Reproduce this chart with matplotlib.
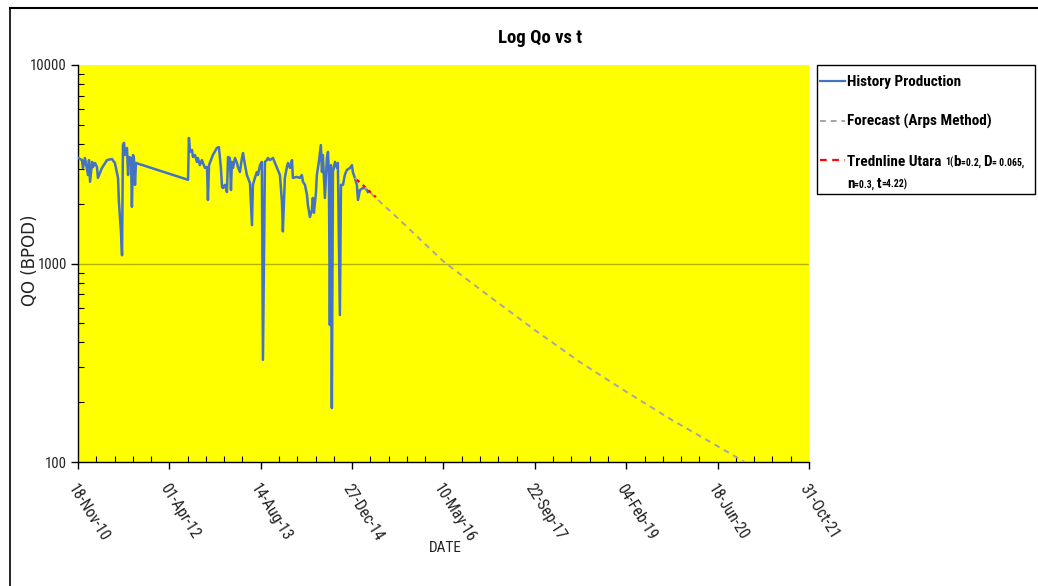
import numpy as np
import matplotlib
matplotlib.use("Agg")
import matplotlib.pyplot as plt
import matplotlib.dates as mdates
from matplotlib import font_manager
from matplotlib.lines import Line2D
from matplotlib.patches import Rectangle
from matplotlib.ticker import FixedLocator, NullFormatter, FuncFormatter


def pick_narrow_family():
    names = {f.name for f in font_manager.fontManager.ttflist}
    for cand in ("Liberation Sans Narrow", "Roboto Condensed",
                 "Open Sans Condensed", "Noto Sans Condensed",
                 "DejaVu Sans Condensed"):
        if cand in names:
            return cand, "normal"
    for f in font_manager.fontManager.ttflist:
        if str(f.stretch) in ("condensed", "semi-condensed",
                              "extra-condensed") and "Sans" in f.name:
            return f.name, f.stretch
    for cand in ("Roboto", "Lato", "Liberation Sans"):
        if cand in names:
            return cand, "normal"
    return "DejaVu Sans", "normal"


NARROW_NAME, NARROW_STRETCH = pick_narrow_family()
NARROW = [NARROW_NAME, "DejaVu Sans"]

# ---- data -------------------------------------------------------------
start_date = np.datetime64("2010-11-18")

# history production: days since first record, oil rate (BOPD)
hist_days = [0, 22, 27, 38, 55, 60, 66, 77, 82, 93, 104, 109, 131, 159, 186,
             202, 219, 224, 235, 241, 246, 252, 257, 268, 274, 279, 290, 295,
             301, 306, 312, 317, 602, 607, 613, 624, 629, 640, 651, 656, 667,
             678, 684, 695, 706, 711, 717, 738, 760, 771, 782, 788, 793, 804,
             815, 821, 831, 837, 842, 848, 859, 870, 875, 886, 897, 903, 914,
             924, 930, 941, 952, 957, 968, 979, 985, 996, 1006, 1012, 1023,
             1034, 1039, 1050, 1067, 1089, 1105, 1116, 1121, 1132, 1143, 1149,
             1160, 1171, 1176, 1198, 1214, 1225, 1231, 1242, 1253, 1258, 1269,
             1280, 1285, 1291, 1302, 1307, 1318, 1329, 1335, 1340, 1351, 1362,
             1368, 1373, 1378, 1384, 1389, 1395, 1406, 1417, 1422, 1433, 1439,
             1450, 1460, 1471, 1488, 1499, 1504, 1515, 1526, 1532, 1543, 1559,
             1570, 1581, 1586]
hist_qo = [3400, 3320, 3030, 3400, 2790, 3320, 2580, 3250, 3060, 3210, 3060,
           2700, 3030, 3320, 3360, 3210, 2700, 2040, 1450, 1100, 3950, 4050,
           3520, 3820, 2790, 3440, 3400, 1930, 3520, 3400, 2490, 3210, 2640,
           4290, 3650, 3730, 3440, 3520, 3250, 3400, 3130, 3320, 3210, 3030,
           3060, 2090, 3130, 3520, 3820, 3860, 3030, 2430, 2400, 2490, 2290,
           3440, 3400, 2345, 3250, 3030, 3400, 3210, 3060, 2890, 3400, 3600,
           3130, 2790, 2700, 2540, 1560, 2490, 2700, 2890, 2790, 3130, 3250,
           327, 3250, 3320, 3400, 3320, 3400, 3030, 2790, 2040, 1450, 2700,
           3060, 3210, 3030, 3320, 2700, 2730, 2700, 2790, 2580, 2490, 2215,
           1970, 1715, 1860, 2140, 1800, 2270, 2790, 3250, 3950, 2890, 3520,
           2140, 3400, 3650, 2790, 490, 3130, 187, 2890, 3250, 3030, 3210,
           550, 2490, 2490, 2790, 2960, 3030, 3130, 2890, 2700, 2490, 2090,
           2345, 2400, 2400, 2345, 2290]

# forecast (Arps method)
fc_days = [1515, 1625, 1761, 2002, 2254, 2500, 2746, 3003, 3249, 3501, 3648]
fc_qo = [2700, 2160, 1655, 1020, 680, 462, 319, 225, 163, 120, 100]

# trendline fitted to the latest history
tr_days = [1526, 1560, 1595, 1630]
tr_qo = [2640, 2480, 2310, 2160]

tick_step_days = 500
minor_step_days = 100
n_major = 8
y_major = [100, 1000, 10000]

# ---- figure -----------------------------------------------------------
W, H = 1038, 586
fig = plt.figure(figsize=(W / 100, H / 100), dpi=100)
fig.patch.set_facecolor("white")

ax = fig.add_axes([78 / W, 1 - 462 / H, 731 / W, 397 / H])
ax.set_facecolor("#FFFF00")


def to_dates(days):
    return start_date + np.array(days, dtype="timedelta64[D]")


ax.plot(to_dates(hist_days), hist_qo, color="#4472C4", lw=1.8,
        solid_joinstyle="round", zorder=3)
ax.plot(to_dates(fc_days), fc_qo, color="#A5A5A5", lw=1.4,
        dashes=(3, 2.5), zorder=4)
ax.plot(to_dates(tr_days), tr_qo, color="#FF0000", lw=1.6,
        dashes=(1.5, 2), zorder=5)

# axes scales
ax.set_yscale("log")
ax.set_ylim(100, 10000)
x0 = mdates.date2num(start_date)
ax.set_xlim(x0, x0 + n_major * tick_step_days)

ax.xaxis.set_major_locator(FixedLocator(
    [x0 + k * tick_step_days for k in range(n_major + 1)]))
ax.xaxis.set_minor_locator(FixedLocator(
    [x0 + k * minor_step_days for k in range(n_major * 5 + 1)]))
ax.xaxis.set_major_formatter(mdates.DateFormatter("%d-%b-%y"))

ax.yaxis.set_major_locator(FixedLocator(y_major))
minors = [m * d for d in (100, 1000) for m in range(2, 10)]
ax.yaxis.set_minor_locator(FixedLocator(minors))
ax.yaxis.set_minor_formatter(NullFormatter())
ax.yaxis.set_major_formatter(FuncFormatter(lambda v, p: f"{int(v)}"))

ax.tick_params(which="major", direction="out", length=5, width=1,
               color="black")
ax.tick_params(which="minor", direction="in", length=4, width=0.8,
               color="black")
ax.tick_params(axis="x", which="major", pad=9)
ax.tick_params(axis="y", which="major", labelsize=10.5, pad=3)

for lab in ax.get_yticklabels():
    lab.set_family(NARROW)
    lab.set_stretch(NARROW_STRETCH)
    lab.set_color("#222222")
for lab in ax.get_xticklabels():
    lab.set_family(NARROW)
    lab.set_stretch(NARROW_STRETCH)
    lab.set_fontsize(11.5)
    lab.set_rotation(-58)
    lab.set_ha("left")
    lab.set_va("top")
    lab.set_rotation_mode("anchor")
    lab.set_color("#222222")

ax.axhline(1000, color="#B4B400", lw=1.0, zorder=1)

for side in ("top", "right"):
    ax.spines[side].set_visible(False)
for side in ("left", "bottom"):
    ax.spines[side].set_color("black")
    ax.spines[side].set_linewidth(1.0)

narrow_kw = dict(family=NARROW, stretch=NARROW_STRETCH)

# titles
fig.text(540 / W, 1 - 38 / H, "Log Qo vs t", ha="center", va="center",
         fontsize=13.5, fontweight="bold", **narrow_kw)
fig.text(30 / W, 1 - 260 / H, "QO (BPOD)", ha="center", va="center",
         rotation=90, fontsize=12, color="#222222", family="DejaVu Sans")
fig.text(445 / W, 1 - 548 / H, "DATE", ha="center", va="center",
         fontsize=11, color="#222222", **narrow_kw)

# outer frame (top and left edges)
fig.add_artist(Line2D([10 / W, 1], [1 - 8 / H, 1 - 8 / H], color="black",
                      lw=1.5, transform=fig.transFigure))
fig.add_artist(Line2D([10 / W, 10 / W], [0, 1 - 8 / H], color="black",
                      lw=1.2, transform=fig.transFigure))

# legend box
fig.add_artist(Rectangle((817 / W, 1 - 194 / H), 218 / W, 129 / H,
                         transform=fig.transFigure, fill=False,
                         edgecolor="black", lw=1.0))


def legend_line(y, **kw):
    fig.add_artist(Line2D([820 / W, 845 / W], [1 - y / H, 1 - y / H],
                          transform=fig.transFigure, **kw))


legend_line(81, color="#4472C4", lw=1.6)
legend_line(121, color="#A5A5A5", lw=1.4, dashes=(3, 2.5))
legend_line(160, color="#FF0000", lw=1.6, dashes=(3, 2.5))

big = dict(fontsize=11, fontweight="bold", **narrow_kw)
small = dict(fontsize=7, fontweight="bold", **narrow_kw)

fig.text(847 / W, 1 - 86 / H, "History Production", va="baseline", **big)
fig.text(847 / W, 1 - 126 / H, "Forecast (Arps Method)", va="baseline", **big)

renderer = fig.canvas.get_renderer()


def text_run(x, y, parts):
    """Write pieces of text of mixed size along one baseline (pixels)."""
    for txt, style in parts:
        t = fig.text(x / W, 1 - y / H, txt, va="baseline", **style)
        x += t.get_window_extent(renderer).width


text_run(847, 166, [("Trednline Utara ", big), ("1(", small),
                    ("b", big), ("=0.2, ", small), ("D", big),
                    ("= 0.065,", small)])
text_run(847, 188, [("n", big), ("=0.3, ", small), ("t", big),
                    ("=4.22)", small)])

fig.savefig("out.png", dpi=100)
